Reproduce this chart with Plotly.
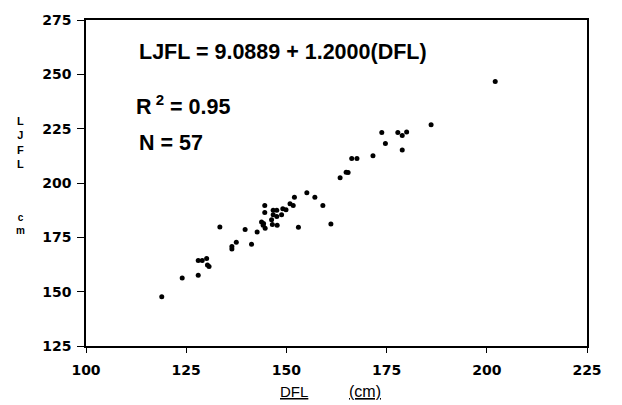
import plotly.graph_objects as go

# DFL (cm) and LJFL (cm)
dfl = [118.9, 124.0, 128.0, 128.0, 129.0, 130.1, 130.3, 130.7, 133.4, 136.4,
       136.4, 137.5, 139.7, 141.3, 142.7, 143.8, 144.2, 144.7, 144.6, 144.6,
       144.3, 146.7, 147.6, 146.7, 146.3, 146.5, 147.6, 147.7, 148.8, 149.1,
       149.9, 150.9, 151.7, 152.0, 153.0, 155.1, 157.1, 159.1, 161.1, 163.4,
       164.9, 165.4, 166.3, 167.6, 171.6, 173.8, 174.7, 177.8, 178.9, 180.0,
       178.9, 186.1, 202.1]
ljfl = [147.7, 156.3, 157.5, 164.3, 164.3, 165.3, 162.3, 161.6, 179.7, 170.8,
        169.6, 172.7, 178.6, 171.8, 177.5, 182.1, 180.6, 179.2, 189.6, 186.4,
        181.4, 187.5, 187.5, 185.4, 183.1, 180.9, 184.6, 180.6, 185.4, 188.2,
        187.7, 190.5, 189.7, 193.5, 179.6, 195.5, 193.5, 189.6, 181.1, 202.4,
        205.0, 204.8, 211.3, 211.3, 212.5, 223.2, 218.2, 223.2, 221.8, 223.5,
        215.2, 226.8, 246.7]

x_ticks = [100, 125, 150, 175, 200, 225]
y_ticks = [125, 150, 175, 200, 225, 250, 275]

equation_text = "LJFL = 9.0889 + 1.2000(DFL)"
r2_text = "R<sup> 2</sup> = 0.95"
n_text = "N = 57"

W, H = 622, 405
L, R, T, B = 86, 35, 15, 59


def px(xp):
    return (xp - L) / (W - L - R)


def py(yp):
    return (H - B - yp) / (H - T - B)


fig = go.Figure()
fig.add_trace(go.Scatter(
    x=dfl, y=ljfl, mode="markers",
    marker=dict(color="black", size=5, line=dict(width=0)),
    showlegend=False,
))

tick_font = dict(family="DejaVu Sans", size=14, color="black", weight="bold")
axis_common = dict(
    showgrid=False, zeroline=False, showline=True, linecolor="black",
    linewidth=1.5, mirror=True, ticks="outside", tickcolor="black",
    tickwidth=1.2, tickfont=tick_font,
)
fig.update_xaxes(range=[100, 225], tickvals=x_ticks, ticklen=5,
                 ticklabelstandoff=5, **axis_common)
fig.update_yaxes(range=[125, 275], tickvals=y_ticks, ticklen=7,
                 ticklabelstandoff=3, **axis_common)

ann_font = dict(family="Liberation Sans", size=21.5, color="black", weight="bold")
annotations = [
    dict(text=equation_text, x=px(137), y=py(47), xanchor="left", yanchor="middle", font=ann_font),
    dict(text=r2_text, x=px(134), y=py(101), xanchor="left", yanchor="middle", font=ann_font),
    dict(text=n_text, x=px(137), y=py(140), xanchor="left", yanchor="middle", font=ann_font),
    dict(text="L<br>J<br>F<br>L", x=px(20), y=py(139), xanchor="center", yanchor="middle",
         font=dict(family="Liberation Sans", size=11, color="black", weight="bold")),
    dict(text="c<br>m", x=px(20), y=py(222), xanchor="center", yanchor="middle",
         font=dict(family="Liberation Sans", size=10, color="black", weight="bold")),
    dict(text="<u>DFL</u>", x=px(294), y=py(392), xanchor="center", yanchor="middle",
         font=dict(family="Liberation Sans", size=15, color="black")),
    dict(text="<u>(cm)</u>", x=px(365), y=py(392), xanchor="center", yanchor="middle",
         font=dict(family="Liberation Sans", size=16, color="black")),
]
for a in annotations:
    a.update(xref="paper", yref="paper", showarrow=False)

fig.update_layout(
    width=W, height=H,
    margin=dict(l=L, r=R, t=T, b=B),
    paper_bgcolor="white", plot_bgcolor="white",
    annotations=annotations,
)

fig.write_html("out.html")
